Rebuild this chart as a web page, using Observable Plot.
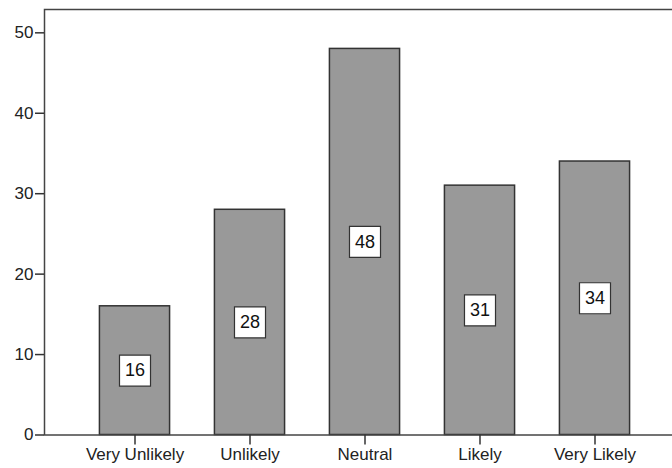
<!DOCTYPE html>
<html>
<head>
<meta charset="utf-8">
<script src="https://cdn.jsdelivr.net/npm/d3@7"></script>
<script src="https://cdn.jsdelivr.net/npm/@observablehq/plot@0.6"></script>
<style>
  html, body { margin: 0; padding: 0; background: #fff; }
</style>
</head>
<body>
<div id="chart"></div>
<script>
// Response categories and their counts
const categories = ["Very Unlikely", "Unlikely", "Neutral", "Likely", "Very Likely"];
const counts = [16, 28, 48, 31, 34];
const yTicks = [0, 10, 20, 30, 40, 50];

const data = categories.map((c, i) => ({cat: c, n: counts[i]}));

const chart = Plot.plot({
  width: 672,
  height: 468,
  marginTop: 9,
  marginLeft: 44,
  marginRight: -13,
  marginBottom: 33.5,
  style: {
    fontFamily: "'Liberation Sans', Arial, sans-serif",
    fontSize: "17px",
    color: "#222",
    background: "white"
  },
  x: {domain: categories, range: [44, 685], round: false, paddingInner: 0.39, paddingOuter: 0.482, label: null},
  y: {domain: [0, 52.9], label: null},
  marks: [
    Plot.barY(data, {x: "cat", y: "n", fill: "#999999", stroke: "#333", strokeWidth: 1.5}),
    Plot.frame({stroke: "#444", strokeWidth: 1.5}),
    Plot.axisY({ticks: yTicks, tickSize: 9, tickPadding: 2, label: null, stroke: "#333", strokeWidth: 1.5}),
    Plot.axisX({tickSize: 10, tickPadding: 3, label: null, stroke: "#333", strokeWidth: 1.5}),
    // value labels in white boxes at the middle of each bar
    Plot.dot(data, {x: "cat", y: d => d.n / 2, symbol: "square", r: 17.5, fill: "white", stroke: "#333", strokeWidth: 1.2}),
    Plot.text(data, {x: "cat", y: d => d.n / 2, text: d => String(d.n), fontSize: 18, fill: "#111"})
  ]
});

document.getElementById("chart").appendChild(chart);
</script>
</body>
</html>
